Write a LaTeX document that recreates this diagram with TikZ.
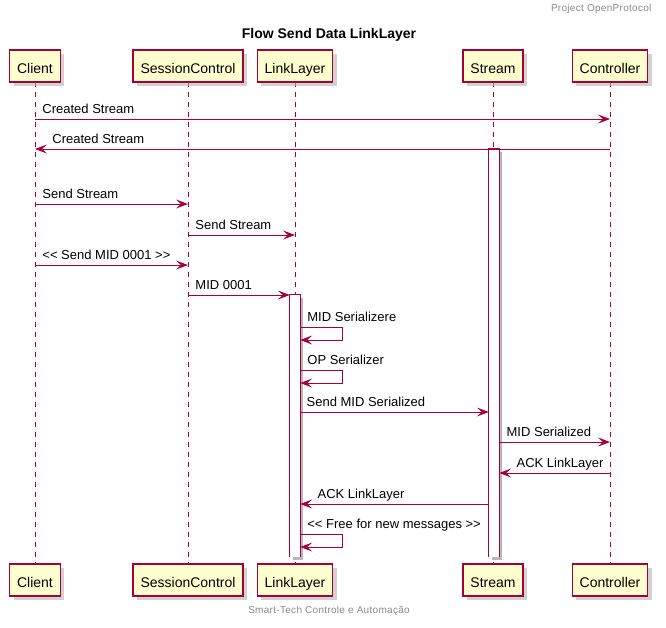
\documentclass[tikz,border=0pt]{standalone}
\usepackage{fontspec}
\setmainfont{Liberation Sans}
\usetikzlibrary{arrows.meta,shadows}
\definecolor{umlred}{HTML}{A80036}
\definecolor{umlfill}{HTML}{FEFECE}
\definecolor{umlgray}{HTML}{888888}
\tikzset{
  part/.style={draw=umlred, fill=umlfill, line width=1.2pt, minimum height=32pt, inner xsep=7.5pt,
    text height=14pt, text depth=0pt, font=\fontsize{14}{16}\selectfont,
    drop shadow={shadow xshift=4pt, shadow yshift=-4pt, fill=black!30, opacity=.6}},
  lifeline/.style={umlred, line width=0.8pt, dash pattern=on 5pt off 5pt},
  activ/.style={fill=white, minimum width=10pt, inner sep=0pt,
    drop shadow={shadow xshift=3pt, shadow yshift=-3pt, fill=black!40, opacity=.7}},
  actline/.style={umlred, line width=0.9pt},
  msg/.style={umlred, line width=0.9pt, -{Stealth[length=12pt,width=9pt,inset=5pt]}},
  lbl/.style={font=\fontsize{13}{15}\selectfont, inner sep=0pt, anchor=base west, text=black}
}
\begin{document}
\begin{tikzpicture}[x=1pt,y=-1pt]
  \useasboundingbox (0,0) rectangle (666,627);
  % header, title, footer
  \node (header) [anchor=east, text=umlgray, font=\fontsize{10}{12}\selectfont\addfontfeature{LetterSpace=3}] at (655,9) {Project OpenProtocol};
  \node (title) [font=\bfseries\fontsize{14}{16}\selectfont] at (329,35) {Flow Send Data LinkLayer};
  \node (footer) [text=umlgray, font=\fontsize{10}{12}\selectfont\addfontfeature{LetterSpace=3}] at (329,611) {Smart-Tech Controle e Automação};
  % lifelines (drawn first, boxes on top)
  \coordinate (clientT) at (35,82);   \coordinate (clientB) at (35,564);
  \coordinate (sessionT) at (188,82); \coordinate (sessionB) at (188,564);
  \coordinate (linkT) at (295,82);    \coordinate (linkB) at (295,564);
  \coordinate (streamT) at (493,82);  \coordinate (streamB) at (493,564);
  \coordinate (ctrlT) at (610,82);    \coordinate (ctrlB) at (610,564);
  \foreach \p in {client,session,link,stream,ctrl}
    \draw[lifeline] (\p T) -- (\p B);
  % participants
  \node (client) [part] at (35,66) {Client};
  \node (session) [part] at (188,66) {SessionControl};
  \node (link) [part] at (295,66) {LinkLayer};
  \node (stream) [part] at (493,66) {Stream};
  \node (ctrl) [part] at (610,66) {Controller};
  \node (client2) [part] at (35,580) {Client};
  \node (session2) [part] at (188,580) {SessionControl};
  \node (link2) [part] at (295,580) {LinkLayer};
  \node (stream2) [part] at (493,580) {Stream};
  \node (ctrl2) [part] at (610,580) {Controller};
  % activations (open at the bottom)
  \node (streamAct) [activ, minimum height=408pt] at (494,353) {};
  \draw[actline] (streamAct.south west) -- (streamAct.north west) -- (streamAct.north east) -- (streamAct.south east);
  \node (linkAct) [activ, minimum height=262pt] at (295,426) {};
  \draw[actline] (linkAct.south west) -- (linkAct.north west) -- (linkAct.north east) -- (linkAct.south east);
  % message rows
  \coordinate (r1) at (0,119);  \coordinate (r2) at (0,149);
  \coordinate (r3) at (0,204);  \coordinate (r4) at (0,235);
  \coordinate (r5) at (0,265);  \coordinate (r6) at (0,295);
  \coordinate (r7) at (0,327);  \coordinate (r8) at (0,370);
  \coordinate (r9) at (0,412);  \coordinate (r10) at (0,442);
  \coordinate (r11) at (0,473); \coordinate (r12) at (0,504);
  \coordinate (r13) at (0,534);
  % messages
  \draw[msg] (client |- r1) -- (ctrl |- r1) node[lbl, at start, xshift=7pt, yshift=6pt] {Created Stream};
  \draw[msg] (ctrl |- r2) -- (client |- r2) node[lbl, at end, xshift=17pt, yshift=6pt] {Created Stream};
  \draw[msg] (client |- r3) -- (session |- r3) node[lbl, at start, xshift=7pt, yshift=6pt] {Send Stream};
  \draw[msg] (session |- r4) -- (link |- r4) node[lbl, at start, xshift=7pt, yshift=6pt] {Send Stream};
  \draw[msg] (client |- r5) -- (session |- r5) node[lbl, at start, xshift=7pt, yshift=6pt] {{<}{<} Send MID 0001 {>}{>}};
  \draw[msg] (session |- r6) -- (linkAct.west |- r6) node[lbl, at start, xshift=7pt, yshift=6pt] {MID 0001};
  \draw[msg] (linkAct.east |- r7) -- ++(42,0) -- ++(0,13) -- ++(-42,0);
  \node[lbl] at ([xshift=7pt, yshift=6pt]linkAct.east |- r7) {MID Serializere};
  \draw[msg] (linkAct.east |- r8) -- ++(42,0) -- ++(0,13) -- ++(-42,0);
  \node[lbl] at ([xshift=7pt, yshift=6pt]linkAct.east |- r8) {OP Serializer};
  \draw[msg] (linkAct.east |- r9) -- (streamAct.west |- r9) node[lbl, at start, xshift=6pt, yshift=6pt] {Send MID Serialized};
  \draw[msg] (streamAct.east |- r10) -- (ctrl |- r10) node[lbl, at start, xshift=7pt, yshift=6pt] {MID Serialized};
  \draw[msg] (ctrl |- r11) -- (streamAct.east |- r11) node[lbl, at end, xshift=17pt, yshift=6pt] {ACK LinkLayer};
  \draw[msg] (streamAct.west |- r12) -- (linkAct.east |- r12) node[lbl, at end, xshift=17pt, yshift=6pt] {ACK LinkLayer};
  \draw[msg] (linkAct.east |- r13) -- ++(42,0) -- ++(0,13) -- ++(-42,0);
  \node[lbl] at ([xshift=7pt, yshift=6pt]linkAct.east |- r13) {{<}{<} Free for new messages {>}{>}};
\end{tikzpicture}
\end{document}
